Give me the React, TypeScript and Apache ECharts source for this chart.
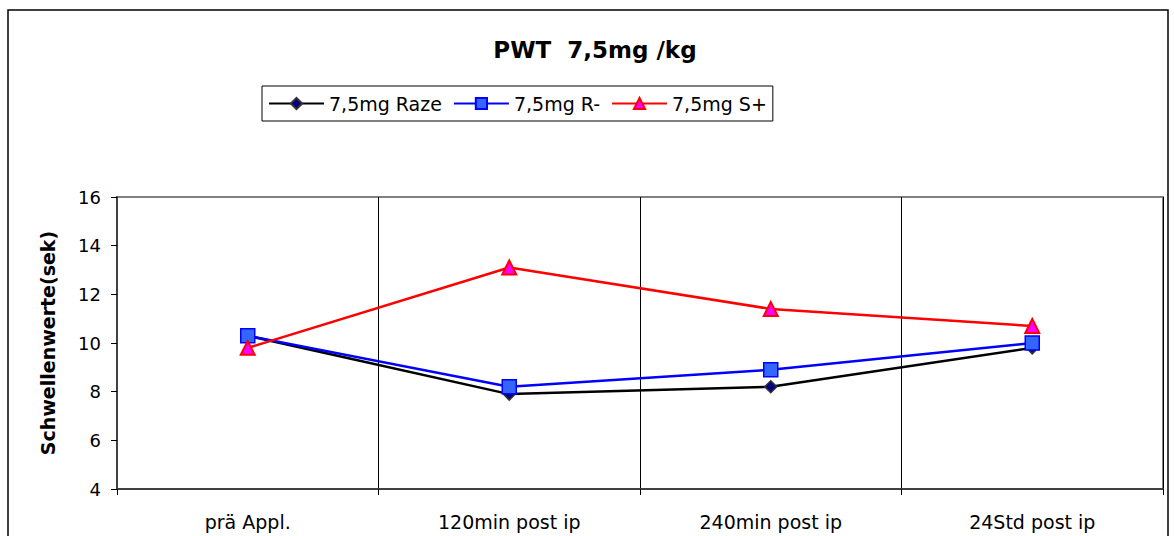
import React, { useEffect, useRef } from "react";
import * as echarts from "echarts";

const categories = ["prä Appl.", "120min post ip", "240min post ip", "24Std post ip"];
const raze = [10.3, 7.9, 8.2, 9.8];
const rMinus = [10.3, 8.2, 8.9, 10.0];
const sPlus = [9.8, 13.1, 11.4, 10.7];
const seriesNames = ["7,5mg Raze", "7,5mg R-", "7,5mg S+"];

export default function App() {
  const ref = useRef<HTMLDivElement>(null);
  useEffect(() => {
    if (!ref.current) return;
    const chart = echarts.init(ref.current, null, { renderer: "svg" });
    const font = "'DejaVu Sans', Arial, sans-serif";
    chart.setOption({
      animation: false,
      backgroundColor: "#ffffff",
      textStyle: { fontFamily: font },
      title: {
        text: "PWT  7,5mg /kg",
        left: 590,
        textAlign: "center",
        top: 33,
        textStyle: { fontFamily: font, fontSize: 23, fontWeight: "bold", color: "#000" },
      },
      graphic: [
        {
          type: "rect",
          shape: { x: 8, y: 10, width: 1160, height: 540 },
          style: { fill: "none", stroke: "#000", lineWidth: 1.5 },
          silent: true,
        },
      ],
      legend: {
        left: 262,
        top: 86,
        padding: [8, 6, 8, 6],
        borderColor: "#000",
        borderWidth: 1,
        itemGap: 11,
        itemWidth: 55,
        itemHeight: 14,
        textStyle: { fontFamily: font, fontSize: 19, color: "#000" },
        data: seriesNames,
      },
      grid: {
        left: 117,
        right: 11,
        top: 197,
        bottom: 47,
        show: true,
        borderColor: "#808080",
        borderWidth: 2,
        backgroundColor: "transparent",
      },
      xAxis: {
        type: "category",
        data: categories,
        boundaryGap: true,
        axisLine: { lineStyle: { color: "#404040", width: 2 } },
        axisTick: { show: true, length: 6, lineStyle: { color: "#000" } },
        axisLabel: { fontFamily: font, fontSize: 19, color: "#000", margin: 23 },
        splitLine: { show: true, lineStyle: { color: "#000", width: 1 } },
      },
      yAxis: {
        type: "value",
        min: 4,
        max: 16,
        interval: 2,
        name: "Schwellenwerte(sek)",
        nameLocation: "middle",
        nameGap: 60,
        nameRotate: 90,
        nameTextStyle: { fontFamily: font, fontSize: 19, fontWeight: "bold", color: "#000" },
        axisLine: { show: true, lineStyle: { color: "#404040", width: 2 } },
        axisTick: { show: true, length: 6, lineStyle: { color: "#000" } },
        axisLabel: { fontFamily: font, fontSize: 18, color: "#000", margin: 16 },
        splitLine: { show: false },
      },
      series: [
        {
          name: seriesNames[0],
          type: "line",
          data: raze,
          symbol: "diamond",
          symbolSize: 12,
          lineStyle: { color: "#000", width: 2.5 },
          itemStyle: { color: "#000080", borderColor: "#333", borderWidth: 1.5 },
          z: 2,
        },
        {
          name: seriesNames[1],
          type: "line",
          data: rMinus,
          symbol: "rect",
          symbolSize: 14,
          lineStyle: { color: "#0000ff", width: 2.5 },
          itemStyle: { color: "#3366ff", borderColor: "#0000ff", borderWidth: 1.5 },
          z: 3,
        },
        {
          name: seriesNames[2],
          type: "line",
          data: sPlus,
          symbol: "triangle",
          symbolSize: 14,
          lineStyle: { color: "#ff0000", width: 2.5 },
          itemStyle: { color: "#ff00ff", borderColor: "#ff0000", borderWidth: 2 },
          z: 4,
        },
      ],
    });
    return () => chart.dispose();
  }, []);
  return (
    <div
      ref={ref}
      style={{ position: "absolute", left: 0, top: 0, width: 1174, height: 536 }}
    />
  );
}
